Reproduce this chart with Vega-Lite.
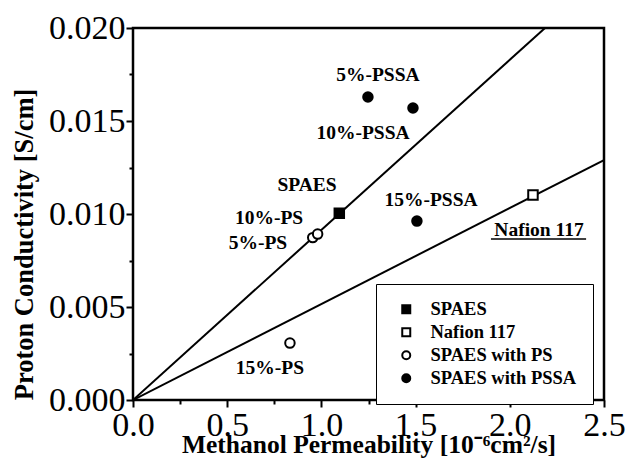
{
  "$schema": "https://vega.github.io/schema/vega-lite/v6.json",
  "width": 471,
  "height": 372,
  "autosize": {"type": "none"},
  "padding": {"left": 133, "top": 28, "right": 23, "bottom": 72},
  "background": "white",
  "config": {
    "view": {"stroke": "black", "strokeWidth": 2.5},
    "font": "Liberation Serif",
    "axis": {
      "grid": false,
      "ticks": true,
      "labelFlush": false,
      "labelOverlap": false,
      "domain": false,
      "tickColor": "black",
      "tickWidth": 2,
      "tickOpacity": 1,
      "labelFont": "Liberation Serif",
      "labelFontSize": 34,
      "labelColor": "black",
      "titleFont": "Liberation Serif",
      "titleFontSize": 25.5,
      "titleFontWeight": "bold",
      "titleColor": "black",
      "zindex": 1
    }
  },
  "resolve": {"axis": {"x": "independent", "y": "independent"}},
  "layer": [
    {
      "data": {"values": [
        {"x": 0, "y": 0, "line": "a"},
        {"x": 2.187, "y": 0.02, "line": "a"},
        {"x": 0, "y": 0, "line": "b"},
        {"x": 2.5, "y": 0.0129, "line": "b"}
      ]},
      "mark": {"type": "line", "color": "black", "strokeWidth": 2, "clip": true},
      "encoding": {
        "x": {
          "field": "x", "type": "quantitative",
          "scale": {"domain": [0, 2.5], "nice": false},
          "axis": {
            "orient": "bottom",
            "values": [0, 0.5, 1, 1.5, 2, 2.5],
            "format": ".1f",
            "tickSize": 7,
            "tickColor": "black",
            "labelPadding": 1,
            "title": "Methanol Permeability [10⁻⁶cm²/s]",
            "titleBaseline": "alphabetic",
            "titleY": 52
          }
        },
        "y": {
          "field": "y", "type": "quantitative",
          "scale": {"domain": [0, 0.02], "nice": false},
          "axis": {
            "orient": "left",
            "values": [0, 0.005, 0.01, 0.015, 0.02],
            "format": ".3f",
            "tickSize": 7,
            "tickColor": "black",
            "labelPadding": 1,
            "title": "Proton Conductivity [S/cm]",
            "titleFontSize": 26.5,
            "titleBaseline": "alphabetic",
            "titleX": -101,
            "titleY": 216
          }
        },
        "detail": {"field": "line", "type": "nominal"}
      }
    },
    {
      "data": {"values": [
        {"x": 1.095, "y": 0.01004, "series": "SPAES"},
        {"x": 2.123, "y": 0.01102, "series": "Nafion 117"},
        {"x": 0.954, "y": 0.00873, "series": "SPAES with PS"},
        {"x": 0.98, "y": 0.00892, "series": "SPAES with PS"},
        {"x": 0.833, "y": 0.00306, "series": "SPAES with PS"},
        {"x": 1.247, "y": 0.01629, "series": "SPAES with PSSA"},
        {"x": 1.486, "y": 0.0157, "series": "SPAES with PSSA"},
        {"x": 1.507, "y": 0.00962, "series": "SPAES with PSSA"}
      ]},
      "mark": {"type": "point", "strokeWidth": 2, "size": 90, "opacity": 1},
      "encoding": {
        "x": {"field": "x", "type": "quantitative", "axis": null},
        "y": {"field": "y", "type": "quantitative", "axis": null},
        "fill": {
          "field": "series", "type": "nominal",
          "scale": {"domain": ["SPAES", "Nafion 117", "SPAES with PS", "SPAES with PSSA"], "range": ["black", "white", "white", "black"]},
          "legend": {
            "title": null, "orient": "none", "legendX": 243, "legendY": 256,
            "strokeColor": "black", "fillColor": "white", "padding": 16,
            "symbolOffset": 5, "symbolSize": 64, "symbolStrokeWidth": 2,
            "labelFont": "Liberation Serif", "labelFontSize": 18.5, "labelFontWeight": "bold", "labelColor": "black",
            "labelOffset": 15, "rowPadding": 4
          }
        },
        "stroke": {
          "field": "series", "type": "nominal",
          "scale": {"domain": ["SPAES", "Nafion 117", "SPAES with PS", "SPAES with PSSA"], "range": ["black", "black", "black", "black"]},
          "legend": {
            "title": null, "orient": "none", "legendX": 243, "legendY": 256,
            "strokeColor": "black", "fillColor": "white", "padding": 16,
            "symbolOffset": 5, "symbolSize": 64, "symbolStrokeWidth": 2,
            "labelFont": "Liberation Serif", "labelFontSize": 18.5, "labelFontWeight": "bold", "labelColor": "black",
            "labelOffset": 15, "rowPadding": 4
          }
        },
        "shape": {
          "field": "series", "type": "nominal",
          "scale": {"domain": ["SPAES", "Nafion 117", "SPAES with PS", "SPAES with PSSA"], "range": ["square", "square", "circle", "circle"]},
          "legend": {
            "title": null, "orient": "none", "legendX": 243, "legendY": 256,
            "strokeColor": "black", "fillColor": "white", "padding": 16,
            "symbolOffset": 5, "symbolSize": 64, "symbolStrokeWidth": 2,
            "labelFont": "Liberation Serif", "labelFontSize": 18.5, "labelFontWeight": "bold", "labelColor": "black",
            "labelOffset": 15, "rowPadding": 4
          }
        }
      }
    },
    {
      "data": {"values": [
        {"x": 1.30, "y": 0.01747, "label": "5%-PSSA"},
        {"x": 1.221, "y": 0.01435, "label": "10%-PSSA"},
        {"x": 0.924, "y": 0.01156, "label": "SPAES"},
        {"x": 0.722, "y": 0.00978, "label": "10%-PS"},
        {"x": 0.663, "y": 0.00844, "label": "5%-PS"},
        {"x": 1.582, "y": 0.01075, "label": "15%-PSSA"},
        {"x": 2.155, "y": 0.00914, "label": "Nafion 117"},
        {"x": 0.727, "y": 0.00172, "label": "15%-PS"}
      ]},
      "mark": {"type": "text", "font": "Liberation Serif", "fontSize": 19.5, "fontWeight": "bold", "color": "black", "align": "center", "baseline": "middle"},
      "encoding": {
        "x": {
          "field": "x", "type": "quantitative",
          "axis": {"orient": "bottom", "values": [0.25, 0.75, 1.25, 1.75, 2.25], "labels": false, "tickSize": 4, "tickColor": "black", "title": null}
        },
        "y": {
          "field": "y", "type": "quantitative",
          "axis": {"orient": "left", "values": [0.0025, 0.0075, 0.0125, 0.0175], "labels": false, "tickSize": 4, "tickColor": "black", "title": null}
        },
        "text": {"field": "label", "type": "nominal"}
      }
    },
    {
      "data": {"values": [{"x": 1.90, "xe": 2.405, "y": 0.00865}]},
      "mark": {"type": "rule", "color": "black", "strokeWidth": 1.5},
      "encoding": {
        "x": {"field": "x", "type": "quantitative", "axis": null},
        "x2": {"field": "xe"},
        "y": {"field": "y", "type": "quantitative", "axis": null}
      }
    }
  ]
}
